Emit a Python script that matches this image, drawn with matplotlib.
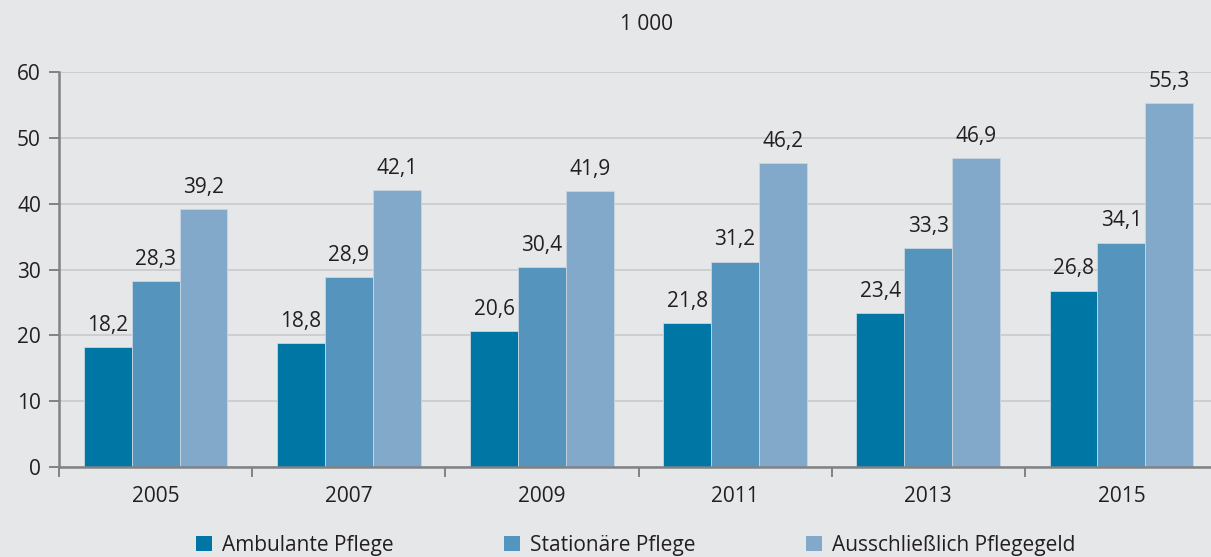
#!/usr/bin/env python3
"""Grouped bar chart: Pflegebeduerftige (in 1 000) nach Versorgungsart, 2005-2015."""

import numpy as np
import matplotlib
matplotlib.use("Agg")
import matplotlib.pyplot as plt
from matplotlib.patches import Patch

# Data (in 1 000)
years = ["2005", "2007", "2009", "2011", "2013", "2015"]
ambulant = [18.2, 18.8, 20.6, 21.8, 23.4, 26.8]
stationaer = [28.3, 28.9, 30.4, 31.2, 33.3, 34.1]
pflegegeld = [39.2, 42.1, 41.9, 46.2, 46.9, 55.3]
series_names = ["Ambulante Pflege", "Stationäre Pflege", "Ausschließlich Pflegegeld"]
y_ticks = [0, 10, 20, 30, 40, 50, 60]
unit_label = "1 000"

BG = "#e6e7e9"
COLORS = ["#0076a5", "#5494bd", "#82a8ca"]
TEXT = "#231f20"
AXIS = "#808285"
GRID = "#c8c9cc"

plt.rcParams["font.family"] = ["Open Sans", "DejaVu Sans"]
plt.rcParams["font.size"] = 15

fig = plt.figure(figsize=(12.11, 5.57), dpi=100, facecolor=BG)
ax = fig.add_axes([59 / 1211, 90 / 557, (1218 - 59) / 1211, (467 - 72) / 557])
ax.set_facecolor(BG)

x = np.arange(len(years))
width = 0.248
all_series = [ambulant, stationaer, pflegegeld]

for i, (vals, col) in enumerate(zip(all_series, COLORS)):
    pos = x + (i - 1) * width
    ax.bar(pos, vals, width=width, color=col, edgecolor="#c9d6e2",
           linewidth=0.6, zorder=3)
    for xp, v in zip(pos, vals):
        ax.annotate(f"{v:.1f}".replace(".", ","), (xp, v),
                    textcoords="offset points", xytext=(0, 8),
                    ha="center", va="bottom", color=TEXT, fontsize=15)

ax.set_xlim(-0.5, len(years) - 0.5)
ax.set_ylim(0, 60)
ax.set_yticks(y_ticks)
ax.yaxis.grid(True, color=GRID, linewidth=1.2, zorder=0)
ax.set_axisbelow(True)

ax.set_xticks(x)
ax.set_xticklabels(years)
ax.set_xticks(np.arange(-0.5, len(years)), minor=True)
ax.tick_params(axis="x", which="major", length=0, pad=14, colors=TEXT, labelsize=15)
ax.tick_params(axis="x", which="minor", length=7, width=1.4, color=AXIS)
ax.tick_params(axis="y", length=7, width=1.4, color=AXIS, labelcolor=TEXT,
               labelsize=15, pad=6)

for s in ["top", "right"]:
    ax.spines[s].set_visible(False)
for s in ["left", "bottom"]:
    ax.spines[s].set_color(AXIS)
    ax.spines[s].set_linewidth(1.8)
    ax.spines[s].set_zorder(4)

fig.text(646 / 1211, 1 - 25 / 557, unit_label, ha="center", va="center",
         color=TEXT, fontsize=15)

handles = [Patch(facecolor=c, edgecolor="none") for c in COLORS]
fig.legend(handles, series_names, loc="center", bbox_to_anchor=(636 / 1211, 1 - 545 / 557),
           ncol=3, frameon=False, handlelength=0.75, handleheight=0.75,
           handletextpad=0.5, columnspacing=5.3, fontsize=15, labelcolor=TEXT)

fig.savefig("out.png", dpi=100, facecolor=BG)
